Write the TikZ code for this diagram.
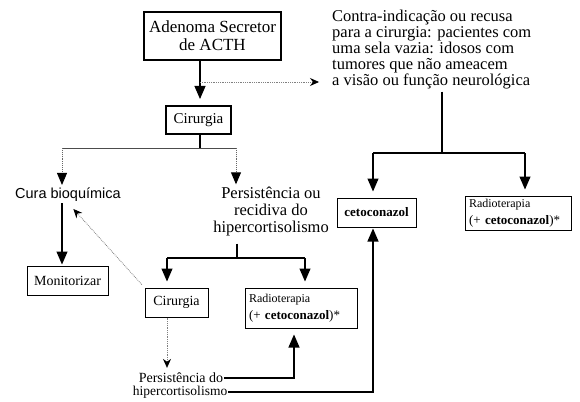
\documentclass[tikz,border=0pt]{standalone}
\usepackage{fontspec}
\setmainfont{Liberation Serif}
\setsansfont{Liberation Sans}
\usepackage{tikz}
\usetikzlibrary{arrows.meta, positioning, calc}

\begin{document}
\begin{tikzpicture}[x=1pt, y=-1pt,
    tumor/.style={rectangle, draw, line width=2.6pt, align=center, inner sep=0pt, minimum width=137pt, minimum height=48pt, font=\fontsize{17}{18}\selectfont},
    surgery/.style={rectangle, draw, line width=2pt, inner sep=0pt, minimum width=65pt, minimum height=28pt, font=\fontsize{15}{16}\selectfont},
    therapy/.style={rectangle, draw, line width=1pt, inner xsep=4pt, inner ysep=2pt, align=left, font=\fontsize{13}{17}\selectfont},
    outcome/.style={align=center, inner sep=1pt, font=\fontsize{16.5}{17}\selectfont},
    note/.style={align=left, inner sep=2pt, font=\fontsize{16.5}{16}\selectfont},
    link/.style={line width=1.1pt},
    thinlink/.style={line width=0.7pt, black!70},
    arrow/.style={line width=1.1pt, -{Triangle[width=11pt, length=13pt]}, shorten >=6pt},
    dotarrow/.style={line width=0.9pt, black!60, densely dotted, -{Triangle[width=10pt, length=12pt, color=black]}, shorten >=2pt},
    hintarrow/.style={line width=0.8pt, black!50, densely dotted, -{Stealth[width=8pt, length=9pt, color=black]}}]

    \useasboundingbox (0,0) rectangle (580,401);

    % Nodes
    \node[tumor] (adenoma) at (212.5,36) {Adenoma Secretor\\de ACTH};
    \node[surgery] (cir1) at (198.5,120) {Cirurgia};
    \node[note, anchor=west] (contra) at (330,50) {Contra-indicação ou recusa\\para a cirurgia: pacientes com\\uma sela vazia: idosos com\\tumores que não ameacem\\a visão ou função neurológica};
    \node[outcome, font=\sffamily\fontsize{14.5}{17}\selectfont] (cura) at (68,195) {Cura bioquímica};
    \node[outcome] (persist) at (271,212) {Persistência ou\\recidiva do\\hipercortisolismo};
    \node[therapy, align=center, minimum width=79pt, minimum height=29pt, font=\bfseries\fontsize{13}{15}\selectfont] (ceto) at (376.5,212.5) {cetoconazol};
    \node[therapy, text width=98pt, minimum height=34pt] (rad1) at (518,213) {{\fontsize{12}{17}\selectfont Radioterapia}\\(+ \textbf{cetoconazol})*};
    \node[therapy, align=center, minimum width=81pt, minimum height=29pt, font=\fontsize{14}{16}\selectfont] (monit) at (67.5,280.5) {Monitorizar};
    \node[therapy, align=center, minimum width=63pt, minimum height=29pt, font=\fontsize{14}{16}\selectfont] (cir2) at (176.5,302.5) {Cirurgia};
    \node[therapy, text width=104pt, minimum height=40pt] (rad2) at (301,308) {{\fontsize{12}{17}\selectfont Radioterapia}\\(+ \textbf{cetoconazol})*};
    \node[outcome, font=\fontsize{14}{16}\selectfont] (pd1) at (181,378) {Persistência do};
    \node[outcome, font=\fontsize{13.5}{16}\selectfont] (pd2) at (180,392) {hipercortisolismo};

    % Branch points
    \coordinate (tee) at (200,82);
    \coordinate (fork1) at (200,148);
    \coordinate (dropC) at (62,148);
    \coordinate (dropP) at (236,148);
    \coordinate (fork2) at (237,258);
    \coordinate (dropS) at (167,258);
    \coordinate (dropR) at (305,258);
    \coordinate (fork3) at (442,153);
    \coordinate (dropK) at (373,153);
    \coordinate (dropQ) at (525,153);

    % Flows
    \draw[arrow] (adenoma.south -| tee) -- (tee |- cir1.north);
    \draw[hintarrow, shorten >=11pt] (tee) -- (tee -| contra.west);
    \draw[link] (cir1.south -| fork1) -- (fork1);
    \draw[thinlink] (dropC) -- (dropP);
    \draw[dotarrow] (dropC) -- (dropC |- cura.north);
    \draw[dotarrow] (dropP) -- (dropP |- persist.north);
    \draw[arrow, shorten >=1pt] (dropC |- cura.south) -- (dropC |- monit.north);
    \draw[link, shorten <=6pt] (fork2 |- persist.south) -- (fork2);
    \draw[link] (dropS) -- (dropR);
    \draw[arrow] (dropS) -- (dropS |- cir2.north);
    \draw[arrow] (dropR) -- (dropR |- rad2.north);
    \draw[hintarrow, shorten >=4pt] (dropS |- cir2.south) -- (dropS |- pd1.north);
    \draw[hintarrow, shorten >=8pt, shorten <=4pt] (cir2.north west) -- (cura.south);
    \draw[arrow] (pd1.east) -| ([xshift=-7pt]rad2.south);
    \draw[arrow, shorten >=1pt] (pd2.east) -| (dropK |- ceto.south);
    \draw[link] (fork3 |- contra.south) -- (fork3);
    \draw[link] (dropK) -- (dropQ);
    \draw[arrow] (dropK) -- (dropK |- ceto.north);
    \draw[arrow] (dropQ) -- (dropQ |- rad1.north);
\end{tikzpicture}
\end{document}
